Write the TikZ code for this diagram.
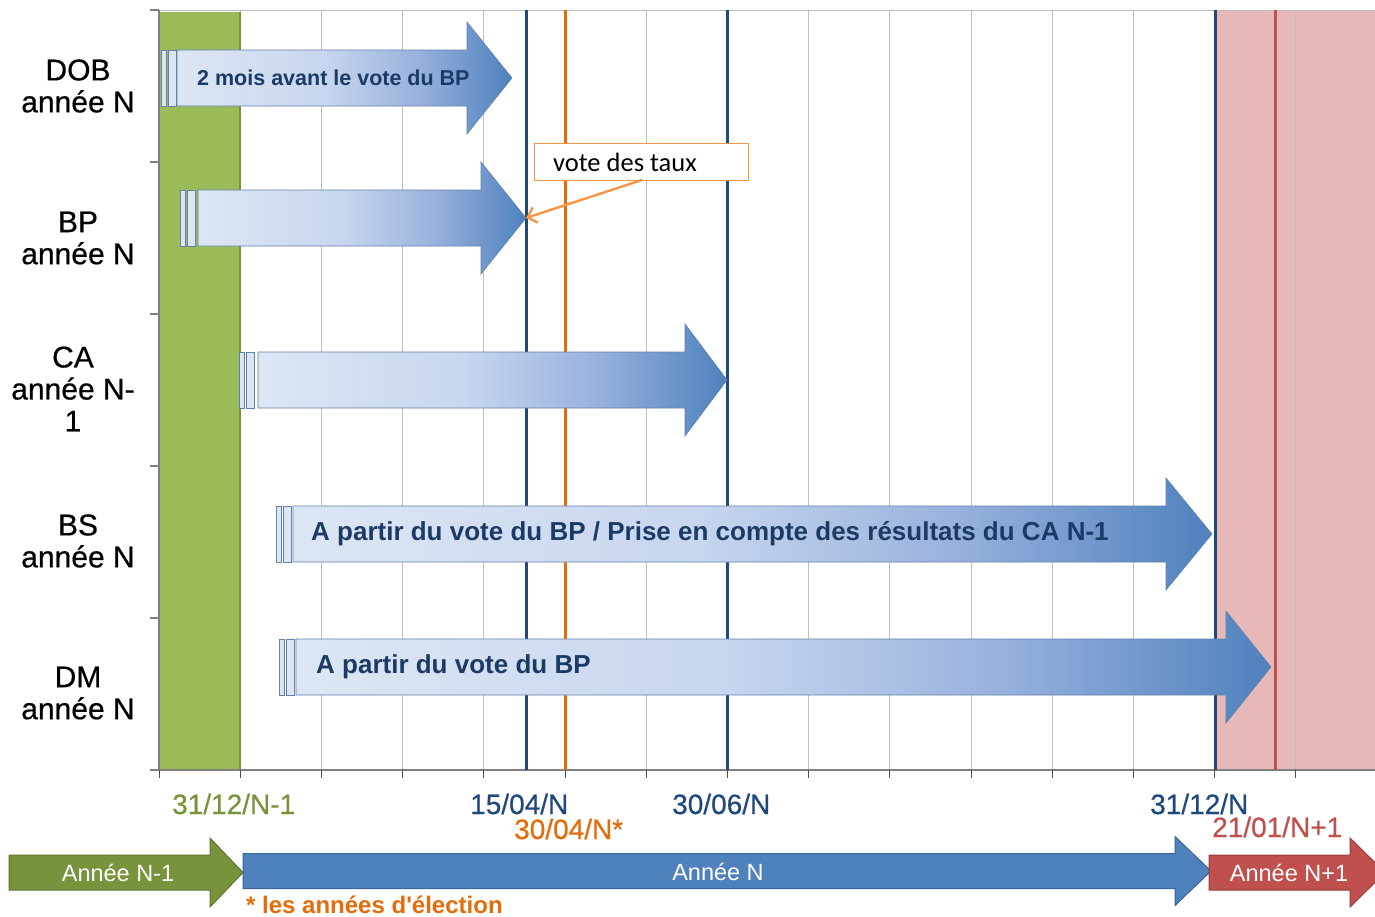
\documentclass[tikz,border=0pt]{standalone}
\usepackage{fontspec}
\setmainfont{Liberation Sans}
\newfontfamily\calib{Carlito}
\newfontfamily\medfont{Liberation Sans}[FakeBold=0.5]
\usetikzlibrary{arrows.meta}
\definecolor{grn}{HTML}{9BBB59}
\definecolor{grnD}{HTML}{77933C}
\definecolor{grnE}{HTML}{5E7530}
\definecolor{pinkz}{HTML}{E6B9B8}
\definecolor{redz}{HTML}{C0504D}
\definecolor{redE}{HTML}{9B3B38}
\definecolor{bluez}{HTML}{4F81BD}
\definecolor{blueE}{HTML}{3A6396}
\definecolor{navy}{HTML}{1F497D}
\definecolor{txtnavy}{HTML}{1B3A66}
\definecolor{orangez}{HTML}{E46C0A}
\definecolor{orangeL}{HTML}{F79646}
\definecolor{gridc}{HTML}{BFBFBF}
\definecolor{axisc}{HTML}{7F7F7F}
\definecolor{sA}{HTML}{DCE6F3}
\definecolor{sB}{HTML}{C8D6EF}
\definecolor{sC}{HTML}{98B2DD}
\definecolor{sD}{HTML}{4F81BD}
\pgfdeclarehorizontalshading{arrowshade}{100bp}{color(0bp)=(sA); color(25bp)=(sA); color(47bp)=(sB); color(61bp)=(sC); color(75bp)=(sD); color(100bp)=(sD)}
\newcommand\timearrow[4]{% x body start, x head start, x tip, y centre
  \path[timearrowstyle] (#1,#4-28) -- (#2,#4-28) -- (#2,#4-56) -- (#3,#4) -- (#2,#4+56) -- (#2,#4+28) -- (#1,#4+28) -- cycle;}
\newcommand\startbars[3]{% x1, x2, y centre
  \draw[barstyle] (#1,#3-28) rectangle ++(5,56);
  \draw[barstyle] (#2,#3-28) rectangle ++(8,56);}
\newcommand\yeararrow[6]{% style, x body start, x head start, x tip, y centre, name
  \path[#1] (#2,#5-17.5) -- (#3,#5-17.5) -- (#3,#5-34.5) -- (#4,#5) -- (#3,#5+34.5) -- (#3,#5+17.5) -- (#2,#5+17.5) -- cycle;
  \coordinate (#6) at ({(#2+#3)/2},#5);}
\tikzset{
  timearrowstyle/.style={shading=arrowshade, draw=blueE!80, line width=0.6pt},
  barstyle/.style={fill=sA, draw=blueE!80, line width=0.6pt},
  rowlab/.style={align=center, font=\medfont\fontsize{30}{32}\selectfont, inner sep=0pt},
  datelab/.style={font=\medfont\fontsize{28}{30}\selectfont, inner sep=0pt, anchor=base west},
  intext/.style={font=\bfseries\fontsize{26}{28}\selectfont, text=txtnavy, inner sep=0pt, anchor=west},
  yeartext/.style={font=\fontsize{23.5}{27}\selectfont, text=white, inner sep=0pt},
  gridline/.style={draw=gridc, line width=1pt},
  keyline/.style={line width=3pt}
}
\begin{document}
\begin{tikzpicture}[x=1pt,y=-1pt]
\useasboundingbox (0,0) rectangle (1375,916);
\fill[white] (0,0) rectangle (1375,916);
% coloured periods
\fill[grn] (159,12) rectangle (240,770);
\fill[pinkz] (1215,10) rectangle (1375,770);
% grid
\draw[gridline] (159,10) -- (1375,10);
\foreach \k in {1,...,14} \draw[gridline] ({159+\k*81.21},10) -- ({159+\k*81.21},770);
\draw[grnD, line width=2pt] (240,12) -- (240,770);
% axes
\draw[axisc, line width=1.2pt] (159,10) -- (159,770) -- (1375,770);
\foreach \yy in {10,162,314,466,618,770} \draw[axisc, line width=1.2pt] (150,\yy) -- (159,\yy);
\foreach \k in {0,...,14} \draw[black!70, line width=1pt] ({159+\k*81.21},770) -- ({159+\k*81.21},778);
% key dates
\draw[navy, keyline] (526,10) -- (526,770);
\draw[orangez, keyline] (565,10) -- (565,770);
\draw[navy, keyline] (727,10) -- (727,770);
\draw[navy, keyline] (1215,10) -- (1215,770);
\draw[redz, keyline] (1275,10) -- (1275,770);
% row labels
\node[rowlab] (lDOB) at (78,86) {DOB\\année N};
\node[rowlab] (lBP) at (78,238) {BP\\année N};
\node[rowlab] (lCA) at (73,389) {CA\\année N-\\1};
\node[rowlab] (lBS) at (78,541) {BS\\année N};
\node[rowlab] (lDM) at (78,693) {DM\\année N};
% arrows
\startbars{161}{168}{78}
\timearrow{177}{467}{512}{78}
\node[intext, font=\bfseries\fontsize{21.5}{24}\selectfont] (tDOB) at (197,78) {2 mois avant le vote du BP};
\startbars{180}{187}{218}
\timearrow{198}{481}{526}{218}
\coordinate (tipBP) at (526,218);
\startbars{239}{246}{380}
\timearrow{258}{685}{727}{380}
\startbars{276}{283}{534}
\timearrow{293}{1166}{1212}{534}
\node[intext] (tBS) at (311,534) {A partir du vote du BP / Prise en compte des résultats du CA N-1};
\startbars{279}{286}{667}
\timearrow{296}{1226}{1271}{667}
\node[intext] (tDM) at (316,667) {A partir du vote du BP};
% vote des taux callout
\node[draw=orangeL, fill=white, line width=1pt, minimum width=214pt, minimum height=37pt, inner sep=0pt] (vote) at (641,161.5) {};
\node[font=\calib\fontsize{26.5}{28}\selectfont, anchor=west, inner sep=0pt] (voteT) at (553,162) {vote des taux};
\draw[orangeL, line width=2.4pt, -{Straight Barb[length=8pt,width=16pt]}] (642,180) -- (tipBP);
% date labels
\node[datelab, text=grnD] (d1) at (172,814) {31/12/N-1};
\node[datelab, text=navy] (d2) at (470,814) {15/04/N};
\node[datelab, text=orangez] (d3) at (514,839) {30/04/N*};
\node[datelab, text=navy] (d4) at (672,814) {30/06/N};
\node[datelab, text=navy] (d5) at (1150,814) {31/12/N};
\node[datelab, text=redz] (d6) at (1212,837) {21/01/N+1};
% year arrows
\yeararrow{fill=grnD, draw=grnE, line width=1pt}{9}{210}{243}{872.5}{cN1}
\yeararrow{fill=bluez, draw=blueE, line width=1pt}{243}{1175}{1211}{871}{cN}
\yeararrow{fill=redz, draw=redE, line width=1pt}{1209}{1350}{1385}{872.5}{cN2}
\node[yeartext] (yN1) at (118,873) {Année N-1};
\node[yeartext] (yN) at (718,872) {Année N};
\node[yeartext] (yN2) at (1289,873) {Année N+1};
\node[font=\bfseries\fontsize{24}{26}\selectfont, text=orangez, anchor=base west, inner sep=0pt] (foot) at (246,913) {* les années d\textquotesingle élection};
\end{tikzpicture}
\end{document}
